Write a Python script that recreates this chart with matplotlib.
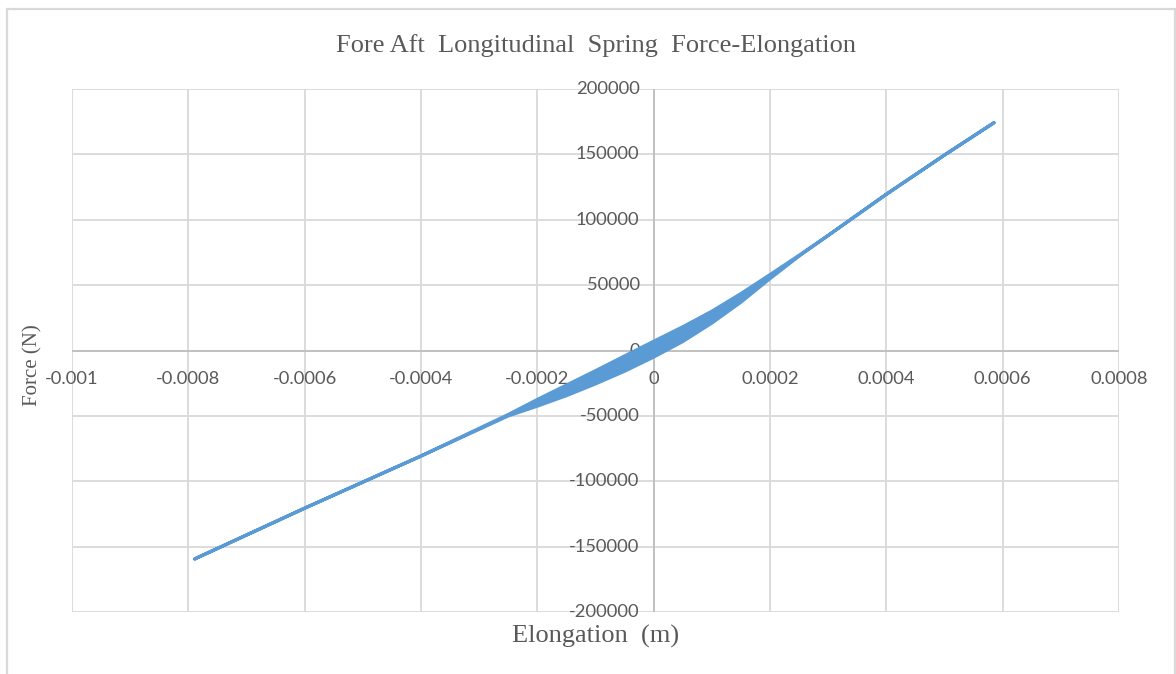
import matplotlib
matplotlib.use("Agg")
import matplotlib.pyplot as plt
from matplotlib.patches import Rectangle

# Spring response: loading branch (lower) followed by unloading branch (upper)
elong_loading = [-0.000789, -0.0006, -0.0004, -0.00025, -0.0002, -0.00015,
                 -0.0001, -0.00005, 0.0, 0.00005, 0.0001, 0.00015,
                 0.0002, 0.00025, 0.0003, 0.0004, 0.0005, 0.000585]
force_loading = [-159400, -120600, -80700, -50000, -42500, -34500,
                 -25500, -15800, -5000, 6900, 21000, 37000,
                 55000, 72200, 88000, 119500, 149500, 174200]

elong_unloading = [0.000585, 0.0005, 0.0004, 0.0003, 0.00025, 0.0002,
                   0.00015, 0.0001, 0.00005, 0.0, -0.00005, -0.0001,
                   -0.00015, -0.0002, -0.00025, -0.0004, -0.0006, -0.000789]
force_unloading = [174200, 149500, 119500, 88000, 72800, 58000,
                   43500, 30000, 18100, 7000, -4200, -15500,
                   -26500, -37500, -49000, -80700, -120600, -159400]

x_ticks = [-0.001, -0.0008, -0.0006, -0.0004, -0.0002, 0, 0.0002, 0.0004, 0.0006, 0.0008]
x_tick_labels = ["-0.001", "-0.0008", "-0.0006", "-0.0004", "-0.0002", "0",
                 "0.0002", "0.0004", "0.0006", "0.0008"]
y_ticks = [-200000, -150000, -100000, -50000, 0, 50000, 100000, 150000, 200000]
y_tick_labels = ["-200000", "-150000", "-100000", "-50000", "0",
                 "50000", "100000", "150000", "200000"]

title = "Fore Aft  Longitudinal  Spring  Force-Elongation"
x_label = "Elongation  (m)"
y_label = "Force (N)"

line_color = "#5b9bd5"
grid_color = "#d9d9d9"
axis_color = "#bfbfbf"
text_color = "#595959"
serif = ["Liberation Serif", "DejaVu Serif"]
sans = ["Lato", "DejaVu Sans"]

fig = plt.figure(figsize=(11.76, 6.74), dpi=100)
fig.patch.set_facecolor("white")

# chart frame
fig.patches.append(Rectangle((6.5 / 1176, -0.01), (1175 - 6.5) / 1176, 1 - 8.5 / 674 + 0.01,
                             transform=fig.transFigure, fill=False,
                             edgecolor=grid_color, linewidth=1.6))

ax = fig.add_axes([72 / 1176, 1 - 612 / 674, (1119 - 72) / 1176, (612 - 89) / 674])
ax.set_xlim(x_ticks[0], x_ticks[-1])
ax.set_ylim(y_ticks[0], y_ticks[-1])

for s in ax.spines.values():
    s.set_visible(False)

for xv in x_ticks:
    ax.axvline(xv, color=grid_color, linewidth=1.3, zorder=0)
for yv in y_ticks:
    ax.axhline(yv, color=grid_color, linewidth=1.3, zorder=0)
ax.axvline(0, color=axis_color, linewidth=1.3, zorder=1)
ax.axhline(0, color=axis_color, linewidth=1.3, zorder=1)

ax.set_xticks([])
ax.set_yticks([])

# tick labels sit beside the zero axes
for xv, lab in zip(x_ticks, x_tick_labels):
    ax.annotate(lab, (xv, 0), xytext=(0, -28), textcoords="offset pixels",
                ha="center", va="center", fontsize=13.2, color=text_color,
                family=sans, zorder=2)
for yv, lab in zip(y_ticks, y_tick_labels):
    ax.annotate(lab, (0, yv), xytext=(-14, 0), textcoords="offset pixels",
                ha="right", va="center", fontsize=13.2, color=text_color,
                family=sans, zorder=2)

# hysteresis band and its outline
loop_x = elong_loading + elong_unloading
loop_y = force_loading + force_unloading
ax.fill(loop_x, loop_y, color=line_color, linewidth=0, zorder=3)
ax.plot(loop_x, loop_y, color=line_color, linewidth=2.4,
        solid_capstyle="round", solid_joinstyle="round", zorder=4)

fig.text(596 / 1176, 1 - 46 / 674, title, ha="center", va="center",
         fontsize=19, color=text_color, family=serif)
fig.text(596 / 1176, 1 - 636 / 674, x_label, ha="center", va="center",
         fontsize=19, color=text_color, family=serif)
fig.text(33 / 1176, 1 - 365 / 674, y_label, ha="center", va="center",
         rotation=90, fontsize=15, color=text_color, family=serif)

fig.savefig("out.png", dpi=100, facecolor="white")
